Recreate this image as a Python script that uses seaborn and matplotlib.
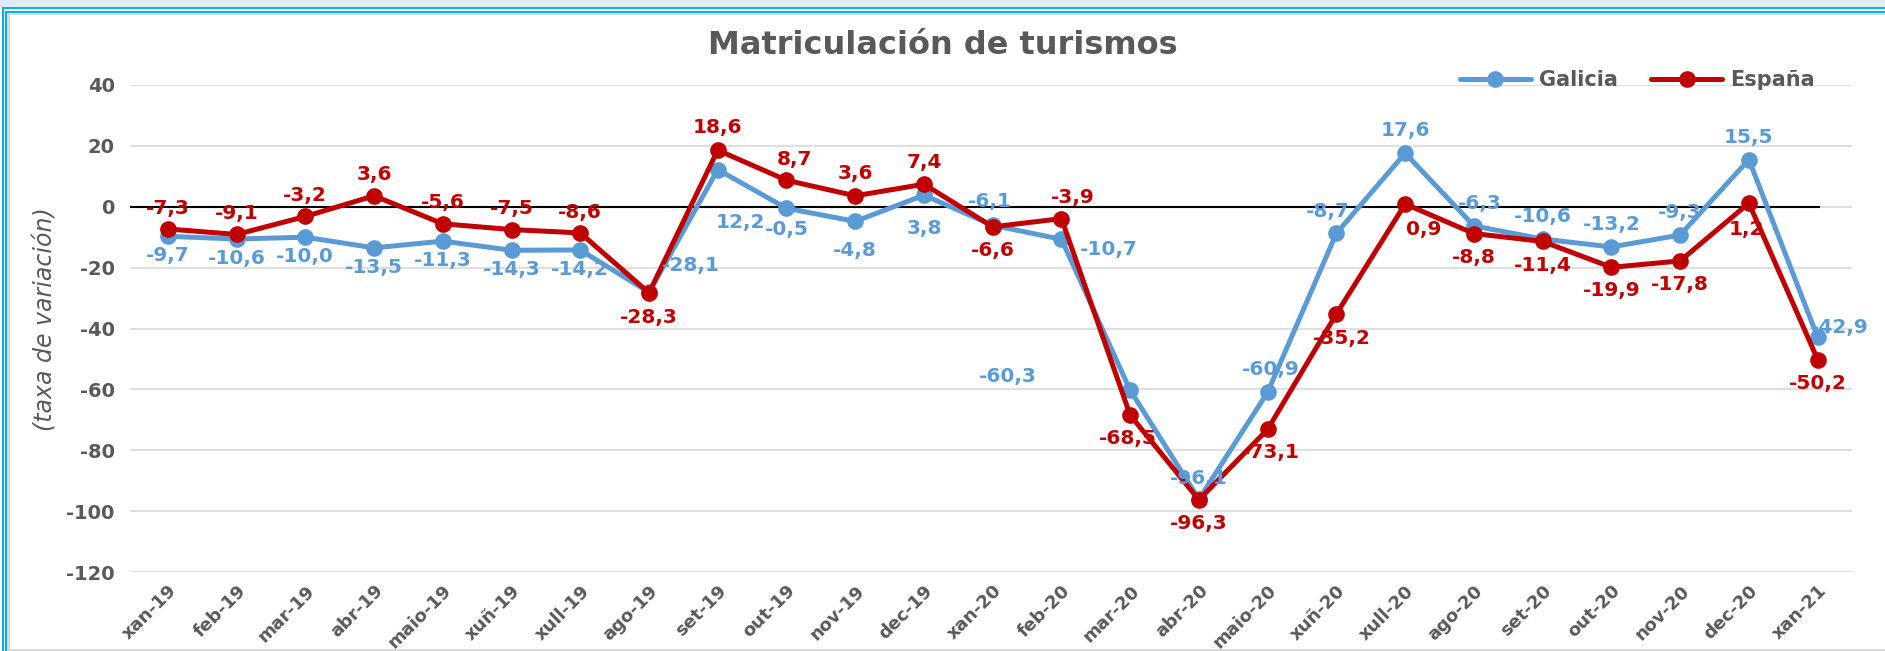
import numpy as np
import pandas as pd
import matplotlib
matplotlib.use("Agg")
import matplotlib.pyplot as plt
from matplotlib.patches import Rectangle
from matplotlib.lines import Line2D
import seaborn as sns

months = ["xan-19", "feb-19", "mar-19", "abr-19", "maio-19", "xuñ-19", "xull-19",
          "ago-19", "set-19", "out-19", "nov-19", "dec-19", "xan-20", "feb-20",
          "mar-20", "abr-20", "maio-20", "xuñ-20", "xull-20", "ago-20", "set-20",
          "out-20", "nov-20", "dec-20", "xan-21"]
galicia = [-9.7, -10.6, -10.0, -13.5, -11.3, -14.3, -14.2, -28.1, 12.2, -0.5,
           -4.8, 3.8, -6.1, -10.7, -60.3, -96.1, -60.9, -8.7, 17.6, -6.3,
           -10.6, -13.2, -9.3, 15.5, -42.9]
espana = [-7.3, -9.1, -3.2, 3.6, -5.6, -7.5, -8.6, -28.3, 18.6, 8.7,
          3.6, 7.4, -6.6, -3.9, -68.5, -96.3, -73.1, -35.2, 0.9, -8.8,
          -11.4, -19.9, -17.8, 1.2, -50.2]
yticks = [40, 20, 0, -20, -40, -60, -80, -100, -120]

# label placement (offset in points) for each data label
A, B = (0, 16), (0, -17)
gal_off = [(0, -14)] * 7 + [(30, 19), (16, -38), (0, -15), (0, -21), (0, -24), (-2, 17),
           (34, -7), (-88, 10), (0, 15), (2, 16), (-6, 16), A, (4, 16), A, A, A, A, (16, 7)]
esp_off = [(0, 15)] * 7 + [(0, -18), A, (6, 15), A, A, B, (8, 15), (-2, -17), B, (2, -17),
           (4, -18), (13, -18), B, B, B, B, (-2, -19), B]

blue = "#5B9BD5"
red = "#C00000"
grey = "#595959"

df = pd.DataFrame({"mes": months * 2,
                   "valor": galicia + espana,
                   "serie": ["Galicia"] * len(months) + ["España"] * len(months)})

sns.set_style("white")
plt.rcParams["font.family"] = ["DejaVu Sans"]

W, H = 1885, 651
fig = plt.figure(figsize=(W / 100, H / 100), dpi=100)
ax = fig.add_axes([130 / W, 1 - 572 / H, (1852 - 130) / W, (572 - 85) / H])

sns.lineplot(data=df, x="mes", y="valor", hue="serie", palette={"Galicia": blue, "España": red},
             hue_order=["Galicia", "España"], marker="o", markersize=12, markeredgewidth=0,
             linewidth=3.6, sort=False, legend=False, ax=ax)

ax.set_xlim(-0.55, 24.5)
ax.set_ylim(-120, 40)
ax.set_yticks(yticks)
ax.set_yticklabels([str(v) for v in yticks])
ax.grid(axis="y", color="#D9D9D9", linewidth=1.2)
ax.grid(axis="x", visible=False)
ax.set_axisbelow(True)
for s in ax.spines.values():
    s.set_visible(False)
ax.hlines(0, -0.55, 24.03, color="black", linewidth=1.5, zorder=1.5)
ax.tick_params(length=0)
ax.tick_params(axis="y", labelsize=14, labelcolor=grey, pad=11)
ax.tick_params(axis="x", labelsize=13, labelcolor=grey, pad=7)
for t in ax.get_yticklabels():
    t.set_fontweight("bold")
for t in ax.get_xticklabels():
    t.set_fontweight("bold")
    t.set_rotation(45)
    t.set_ha("right")
    t.set_rotation_mode("anchor")

ax.set_xlabel("")
ax.set_ylabel("(taxa de variación)", fontsize=17, style="italic", color=grey)
ax.yaxis.set_label_coords(-0.042, 0.52)

for vals, offs, col in [(galicia, gal_off, blue), (espana, esp_off, red)]:
    for i, (v, o) in enumerate(zip(vals, offs)):
        ax.annotate(f"{v:.1f}".replace(".", ","), (i, v), xytext=o, textcoords="offset points",
                    ha="center", va="center", fontsize=14.5, fontweight="bold", color=col, zorder=5)

fig.text(0.5, 1 - 45 / H, "Matriculación de turismos", ha="center", va="center",
         fontsize=23, fontweight="bold", color=grey)

handles = [Line2D([], [], color=blue, marker="o", markersize=12, markeredgewidth=0, linewidth=3.6),
           Line2D([], [], color=red, marker="o", markersize=12, markeredgewidth=0, linewidth=3.6)]
leg = fig.legend(handles, ["Galicia", "España"], loc="center right", ncol=2, frameon=False,
                 bbox_to_anchor=(1815 / W, 1 - 80 / H), bbox_transform=fig.transFigure,
                 borderaxespad=0, borderpad=0, handlelength=3.4, columnspacing=1.6,
                 handletextpad=0.4, prop={"size": 15, "weight": "bold"})
for t in leg.get_texts():
    t.set_color(grey)


def band(x0, y0, x1, y1, color):
    fig.patches.append(Rectangle((x0 / W, 1 - y1 / H), (x1 - x0) / W, (y1 - y0) / H,
                                 transform=fig.transFigure, color=color, zorder=0, linewidth=0))


band(0, 0, W, 7, "#DAEEF3")
band(2, 7, W, 9, "#00B0F0")
band(5, 11, W, 13, "#00B0F0")
band(2, 7, 4, H, "#00B0F0")
band(5, 11, 7, H, "#00B0F0")
band(7, 13, W, 15, "#D9D9D9")
band(7, 13, 10, H, "#D9D9D9")
band(7, H - 2, W, H, "#D9D9D9")

fig.savefig("out.png", dpi=100)
